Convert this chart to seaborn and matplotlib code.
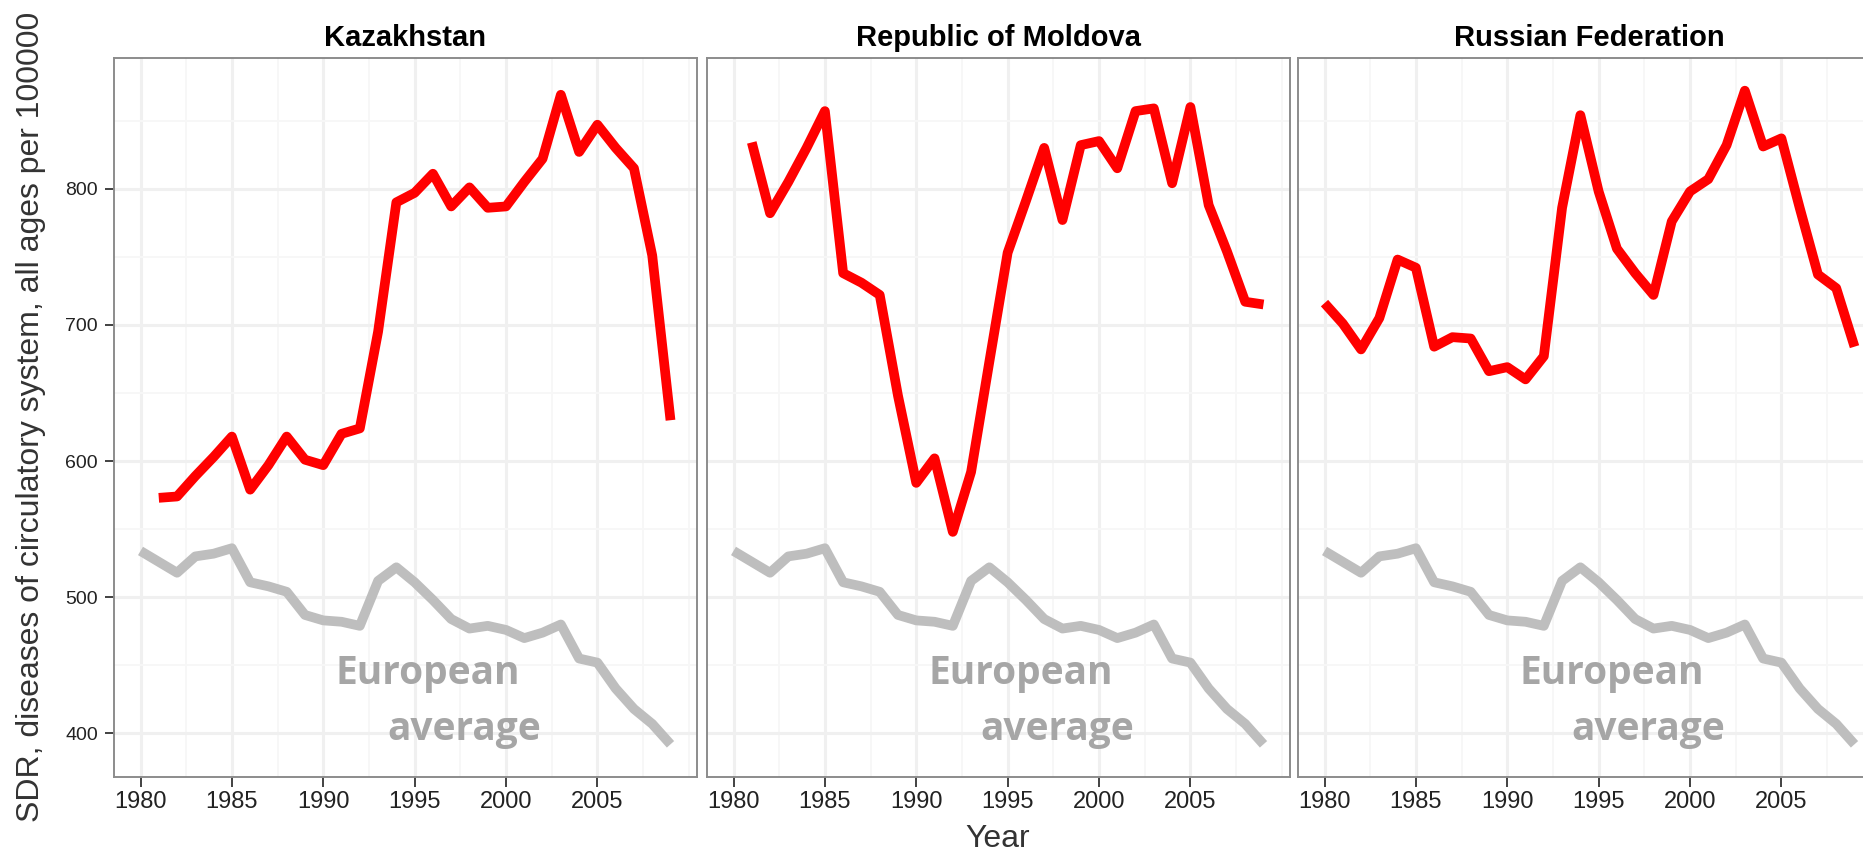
import numpy as np
import pandas as pd
import matplotlib
matplotlib.use("Agg")
import matplotlib.pyplot as plt
from matplotlib.ticker import MultipleLocator, FixedLocator
import seaborn as sns

years = list(range(1980, 2010))

kazakhstan = [np.nan, 573, 574, 589, 603, 618, 579, 597, 618, 601,
              597, 620, 624, 695, 790, 797, 811, 787, 801, 786,
              787, 805, 822, 869, 827, 847, 830, 815, 751, 630]
moldova = [np.nan, 834, 782, 805, 830, 857, 738, 731, 722, 648,
           584, 602, 548, 592, 673, 753, 791, 830, 777, 832,
           835, 815, 857, 859, 804, 860, 788, 754, 717, 715]
russia = [716, 701, 682, 705, 748, 742, 684, 691, 690, 666,
          669, 660, 677, 786, 854, 798, 756, 738, 722, 776,
          798, 807, 832, 872, 831, 837, 786, 737, 727, 684]
europe = [534, 526, 518, 530, 532, 536, 511, 508, 504, 487,
          483, 482, 479, 512, 522, 511, 498, 484, 477, 479,
          476, 470, 474, 480, 455, 452, 433, 418, 407, 392]

countries = ["Kazakhstan", "Republic of Moldova", "Russian Federation"]
country_values = [kazakhstan, moldova, russia]
year_ticks = [1980, 1985, 1990, 1995, 2000, 2005]

rows = []
for name, vals in zip(countries, country_values):
    for yr, v, e in zip(years, vals, europe):
        rows.append({"country": name, "year": yr, "value": v, "series": "country"})
        rows.append({"country": name, "year": yr, "value": e, "series": "europe"})
df = pd.DataFrame(rows)

sns.set_style("white")
plt.rcParams["font.family"] = ["Liberation Sans", "DejaVu Sans"]

W, H = 1863, 850
fig = plt.figure(figsize=(W / 100, H / 100), dpi=100)

top_px, bot_px = 58, 777
lefts = [114, 707, 1298]
width_px = 583

allv = df["value"].dropna()
span = allv.max() - allv.min()
ylim = (allv.min() - 0.05 * span, allv.max() + 0.05 * span)
xspan = years[-1] - years[0]
xlim = (years[0] - 0.05 * xspan, years[-1] + 0.05 * xspan)

for i, name in enumerate(countries):
    ax = fig.add_axes([lefts[i] / W, 1 - bot_px / H, width_px / W, (bot_px - top_px) / H])
    sub = df[df["country"] == name]
    sns.lineplot(data=sub, x="year", y="value", hue="series",
                 palette={"country": "#FF0000", "europe": "#BEBEBE"},
                 hue_order=["europe", "country"],
                 linewidth=7.0, legend=False, ax=ax, estimator=None,
                 solid_capstyle="butt", solid_joinstyle="round")
    ax.set_xlim(xlim)
    ax.set_ylim(ylim)
    ax.xaxis.set_major_locator(FixedLocator(year_ticks))
    ax.xaxis.set_minor_locator(MultipleLocator(2.5))
    ax.yaxis.set_major_locator(MultipleLocator(100))
    ax.yaxis.set_minor_locator(MultipleLocator(50))
    ax.grid(which="major", color="#F0F0F0", linewidth=2.2)
    ax.grid(which="minor", color="#F7F7F7", linewidth=1.4)
    ax.set_axisbelow(True)
    for sp in ax.spines.values():
        sp.set_color("#8C8C8C")
        sp.set_linewidth(1.4)
    ax.tick_params(axis="x", which="major", length=7, width=1.3, color="#333333",
                   labelsize=17, labelcolor="#222222", pad=3, bottom=True)
    ax.tick_params(axis="y", which="major", length=6.5, width=1.3, color="#333333",
                   labelsize=14, labelcolor="#222222", pad=5, left=True)
    ax.tick_params(which="minor", length=0)
    if i > 0:
        ax.tick_params(axis="y", which="major", left=False, labelleft=False)
    ax.set_xlabel("")
    ax.set_ylabel("")
    ax.text(0.5, 1 + (top_px - 38) / (bot_px - top_px), name, transform=ax.transAxes,
            ha="center", va="center", fontsize=21, fontweight="bold", color="black")
    ax.text(1995.7, 436, "European", ha="center", va="baseline", fontsize=28,
            fontweight="bold", color="#A6A6A6", family=["Open Sans", "DejaVu Sans"])
    ax.text(1997.7, 395, "average", ha="center", va="baseline", fontsize=28,
            fontweight="bold", color="#A6A6A6", family=["Open Sans", "DejaVu Sans"])

fig.text(31 / W, 1 - 417 / H, "SDR, diseases of circulatory system, all ages per 100000",
         rotation=90, ha="center", va="center", fontsize=23, color="#333333")
fig.text(998 / W, 0.004, "Year", ha="center", va="baseline", fontsize=23, color="#333333")

fig.savefig("out.png", dpi=100)
